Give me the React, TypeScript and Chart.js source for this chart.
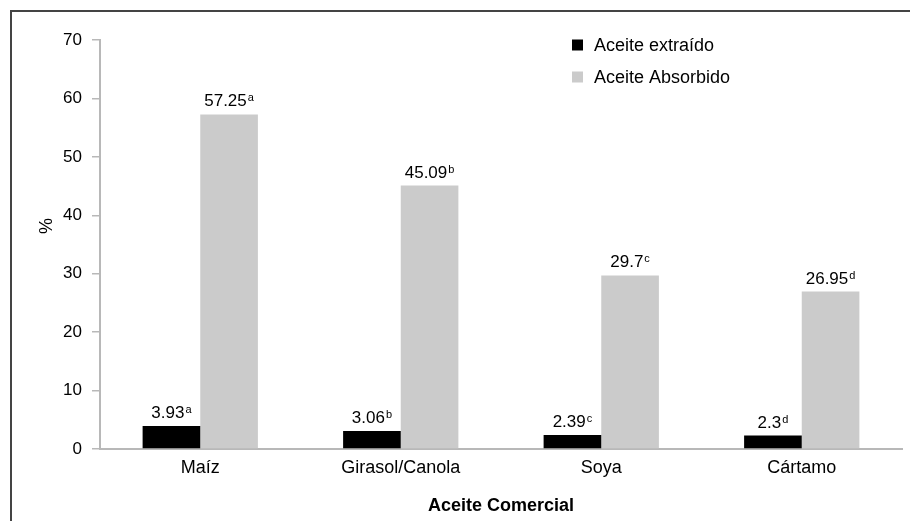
import React, { useEffect, useRef } from "react";
import { Chart, registerables } from "chart.js";

Chart.register(...registerables);

const categories = ["Maíz", "Girasol/Canola", "Soya", "Cártamo"];
const seriesNames = ["Aceite extraído", "Aceite Absorbido"];
const extraido = [3.93, 3.06, 2.39, 2.3];
const absorbido = [57.25, 45.09, 29.7, 26.95];
const extraidoLetters = ["a", "b", "c", "d"];
const absorbidoLetters = ["a", "b", "c", "d"];
const yMin = 0;
const yMax = 70;
const yStep = 10;
const xTitle = "Aceite Comercial";
const yTitle = "%";

const FONT = "'Liberation Sans', Arial, Helvetica, sans-serif";
const colors = ["#000000", "#cbcbcb"];
const letters = [extraidoLetters, absorbidoLetters];

const decorPlugin = {
  id: "decor",
  afterDraw(chart: any) {
    const ctx = chart.ctx;
    ctx.save();
    // outer frame (top + left)
    ctx.strokeStyle = "#444444";
    ctx.lineWidth = 2;
    ctx.beginPath();
    ctx.moveTo(11, 530);
    ctx.lineTo(11, 11);
    ctx.lineTo(920, 11);
    ctx.stroke();

    // value labels with superscripts
    chart.data.datasets.forEach((ds: any, di: number) => {
      const meta = chart.getDatasetMeta(di);
      meta.data.forEach((bar: any, i: number) => {
        const val = String(ds.data[i]);
        const sup = letters[di][i];
        ctx.font = `17px ${FONT}`;
        const w1 = ctx.measureText(val).width;
        ctx.font = `11px ${FONT}`;
        const w2 = ctx.measureText(sup).width;
        const total = w1 + 1 + w2;
        const x0 = bar.x - total / 2;
        const baseY = bar.y - 8;
        ctx.fillStyle = "#000";
        ctx.textBaseline = "alphabetic";
        ctx.textAlign = "left";
        ctx.font = `17px ${FONT}`;
        ctx.fillText(val, x0, baseY);
        ctx.font = `11px ${FONT}`;
        ctx.fillText(sup, x0 + w1 + 1, baseY - 5);
      });
    });

    // legend
    const lx = 572;
    const ly = [45, 77];
    chart.data.datasets.forEach((ds: any, di: number) => {
      ctx.fillStyle = ds.backgroundColor;
      ctx.fillRect(lx, ly[di] - 5.5, 11, 11);
      ctx.fillStyle = "#000";
      ctx.font = `18px ${FONT}`;
      ctx.textBaseline = "middle";
      ctx.textAlign = "left";
      ctx.fillText(ds.label, lx + 22, ly[di] + 1);
    });

    // y title
    ctx.save();
    ctx.translate(47, 226);
    ctx.rotate(-Math.PI / 2);
    ctx.font = `18px ${FONT}`;
    ctx.textAlign = "center";
    ctx.textBaseline = "middle";
    ctx.fillStyle = "#000";
    ctx.fillText(yTitle, 0, 0);
    ctx.restore();

    ctx.restore();
  },
};

export default function App() {
  const ref = useRef<HTMLCanvasElement>(null);
  useEffect(() => {
    if (!ref.current) return;
    const chart = new Chart(ref.current, {
      type: "bar",
      data: {
        labels: categories,
        datasets: [
          {
            label: seriesNames[0],
            data: extraido,
            backgroundColor: colors[0],
            categoryPercentage: 0.575,
            barPercentage: 1,
          },
          {
            label: seriesNames[1],
            data: absorbido,
            backgroundColor: colors[1],
            categoryPercentage: 0.575,
            barPercentage: 1,
          },
        ],
      },
      options: {
        responsive: false,
        animation: false,
        devicePixelRatio: 1,
        layout: { padding: { top: 40, right: 8, left: 0, bottom: 0 } },
        plugins: {
          legend: { display: false },
          tooltip: { enabled: false },
        },
        scales: {
          x: {
            grid: { display: false, drawTicks: false },
            border: { display: true, color: "#b8b8b8", width: 2 },
            ticks: {
              color: "#000",
              font: { family: FONT, size: 18 },
              padding: 8,
            },
            title: {
              display: true,
              text: xTitle,
              color: "#000",
              font: { family: FONT, size: 18, weight: "bold" },
              padding: { top: 0, bottom: 4 },
            },
            afterFit(scale: any) {
              scale.height = 72;
            },
          },
          y: {
            min: yMin,
            max: yMax,
            grid: {
              drawOnChartArea: false,
              drawTicks: true,
              tickLength: 8,
              color: "#b8b8b8",
              lineWidth: 1.5,
            },
            border: { display: true, color: "#b8b8b8", width: 2 },
            ticks: {
              stepSize: yStep,
              color: "#000",
              font: { family: FONT, size: 17 },
              padding: 10,
            },
            afterFit(scale: any) {
              scale.width = 100;
            },
          },
        },
      },
      plugins: [decorPlugin],
    });
    return () => chart.destroy();
  }, []);
  return (
    <div style={{ position: "fixed", left: 0, top: 0, width: 910, height: 521, background: "#fff" }}>
      <canvas ref={ref} width={910} height={521} />
    </div>
  );
}
